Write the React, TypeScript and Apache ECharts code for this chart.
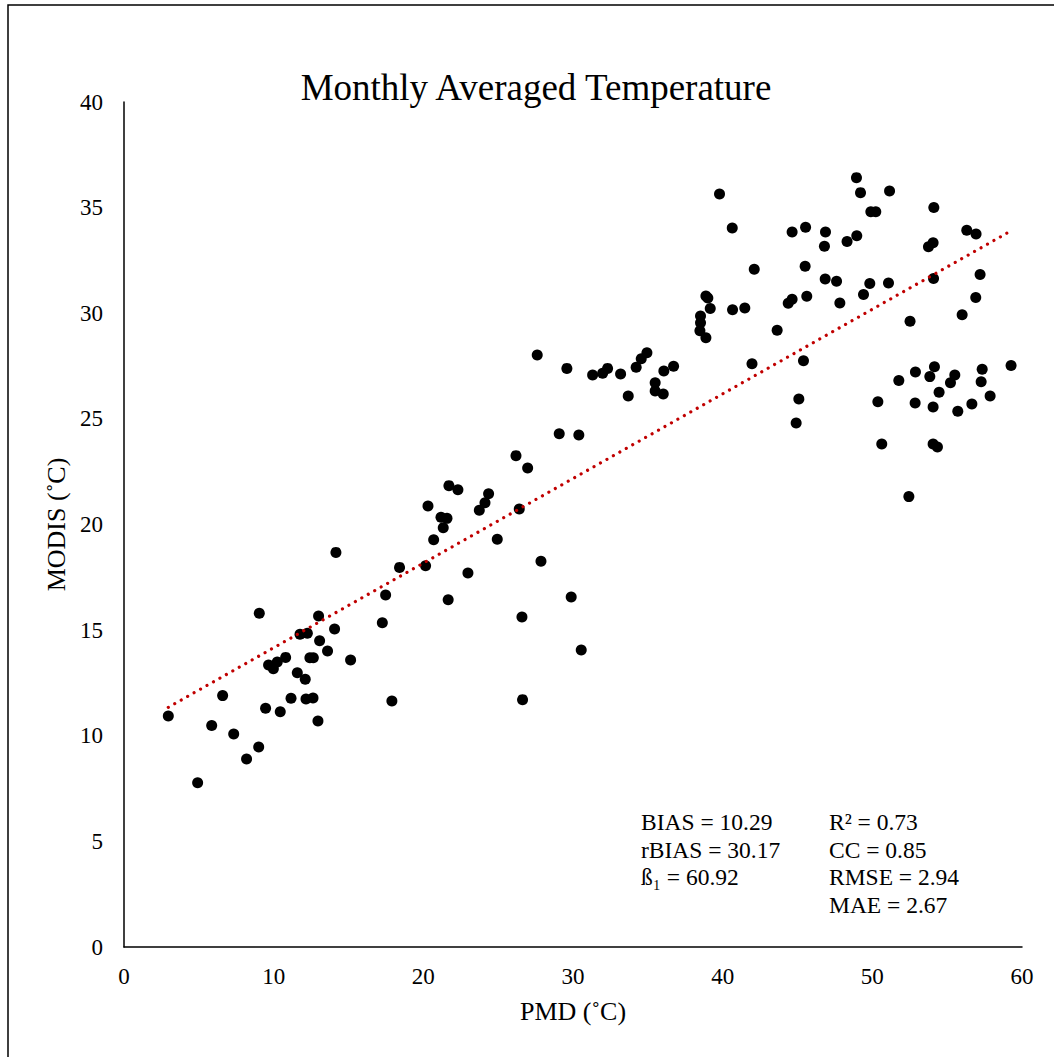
import React, { useEffect, useRef } from "react";
import * as echarts from "echarts";

// [PMD, MODIS] pairs
const lowGroup: number[][] = [
  [2.96, 10.93], [4.92, 7.78], [5.86, 10.48], [6.59, 11.9], [7.33, 10.08], [8.19, 8.9],
  [9.0, 9.47], [9.04, 15.8], [9.46, 11.3], [9.66, 13.35], [9.98, 13.17], [10.24, 13.49],
  [10.44, 11.14], [10.8, 13.71], [11.16, 11.77], [11.58, 12.98], [11.76, 14.8], [12.11, 12.67],
  [12.16, 11.74], [12.25, 14.85], [12.42, 13.69], [12.65, 13.69], [12.63, 11.79], [12.96, 10.7],
  [13.0, 15.67], [13.07, 14.5], [13.6, 14.01], [14.07, 15.05], [14.16, 18.68], [15.14, 13.59],
  [17.26, 15.35], [17.48, 16.66], [17.9, 11.65], [18.41, 17.97], [20.15, 18.05], [20.31, 20.88],
];
const midGroup: number[][] = [
  [20.69, 19.28], [21.18, 20.34], [21.58, 20.29], [21.33, 19.85], [21.66, 16.44], [21.71, 21.84],
  [22.31, 21.65], [22.98, 17.7], [23.74, 20.67], [24.12, 21.03], [24.36, 21.46], [24.94, 19.3],
  [26.19, 23.26], [26.41, 20.73], [26.59, 15.62], [26.63, 11.71], [26.97, 22.67], [27.61, 28.02],
  [27.86, 18.26], [29.08, 24.3], [29.59, 27.39], [29.88, 16.57], [30.39, 24.24], [30.55, 14.06],
  [31.31, 27.08], [31.98, 27.16], [32.31, 27.39], [33.18, 27.12], [33.69, 26.08], [34.22, 27.44],
  [34.56, 27.85], [34.94, 28.13], [35.49, 26.71], [35.49, 26.32], [36.03, 26.18], [36.07, 27.27],
  [36.72, 27.49],
];
const highGroup: number[][] = [
  [38.52, 29.87], [38.52, 29.55], [38.48, 29.17], [38.88, 28.84], [38.88, 30.82], [39.01, 30.72],
  [39.17, 30.23], [39.79, 35.65], [40.64, 34.04], [40.66, 30.17], [41.48, 30.25], [41.96, 27.61],
  [42.11, 32.08], [43.64, 29.19], [44.38, 30.47], [44.64, 30.66], [44.64, 33.85], [44.91, 24.8],
  [45.09, 25.94], [45.4, 27.75], [45.51, 32.22], [45.54, 34.07], [45.62, 30.8], [46.8, 33.17],
  [46.85, 31.62], [46.87, 33.85], [47.61, 31.51], [47.83, 30.49], [48.31, 33.4], [48.94, 36.42],
  [48.96, 33.67], [49.21, 35.71], [49.41, 30.89], [49.83, 31.41], [49.9, 34.81], [50.23, 34.81],
  [50.37, 25.81], [50.63, 23.81], [51.08, 31.43], [51.15, 35.79], [51.77, 26.82], [52.44, 21.32],
  [52.52, 29.62], [52.86, 25.75], [52.88, 27.22], [53.75, 33.15], [53.84, 27.0], [54.06, 33.34],
  [54.06, 25.56], [54.06, 23.81], [54.09, 31.65], [54.11, 35.01], [54.15, 27.47], [54.35, 23.67],
  [54.46, 26.26], [55.22, 26.71], [55.51, 27.08], [55.71, 25.36], [56.0, 29.93], [56.31, 33.93],
  [56.65, 25.7], [56.91, 30.75], [56.93, 33.75], [57.2, 31.83], [57.27, 26.76], [57.34, 27.35],
  [57.87, 26.08], [59.27, 27.53],
];

// linear trendline coefficients
const trendSlope = 0.4006;
const trendIntercept = 10.16;

const xTicks = [0, 10, 20, 30, 40, 50, 60];
const yTicks = [0, 5, 10, 15, 20, 25, 30, 35, 40];

const statsLeft = ["BIAS = 10.29", "rBIAS = 30.17", "ß₁ = 60.92"];
const statsRight = ["R² = 0.73", "CC = 0.85", "RMSE = 2.94", "MAE = 2.67"];

const FONT = "'Liberation Serif', 'Times New Roman', serif";

export default function App() {
  const ref = useRef<HTMLDivElement>(null);
  useEffect(() => {
    if (!ref.current) return;
    const chart = echarts.init(ref.current, null, { renderer: "svg" });
    const all = [...lowGroup, ...midGroup, ...highGroup];
    const xs = all.map((p) => p[0]);
    const xMin = Math.min(...xs);
    const xMax = Math.max(...xs);
    const trend = [
      [xMin, trendIntercept + trendSlope * xMin],
      [xMax, trendIntercept + trendSlope * xMax],
    ];
    const statTexts: any[] = [];
    statsLeft.forEach((t, i) =>
      statTexts.push({
        type: "text",
        left: 641,
        top: 810 + i * 27.6,
        style: { text: t, font: `23.5px ${FONT}`, fill: "#000" },
      })
    );
    statsRight.forEach((t, i) =>
      statTexts.push({
        type: "text",
        left: 829,
        top: 810 + i * 27.6,
        style: { text: t, font: `23.5px ${FONT}`, fill: "#000" },
      })
    );
    chart.setOption({
      animation: false,
      backgroundColor: "#fff",
      grid: { left: 124, top: 102, right: 32, bottom: 110 },
      xAxis: {
        type: "value",
        min: 0,
        max: 60,
        interval: 10,
        name: "PMD (˚C)",
        nameLocation: "middle",
        nameGap: 51,
        nameTextStyle: { fontFamily: FONT, fontSize: 26, color: "#000" },
        axisLine: { show: true, onZero: false, lineStyle: { color: "#000", width: 1.5 } },
        axisTick: { show: false },
        splitLine: { show: false },
        axisLabel: {
          fontFamily: FONT,
          fontSize: 23,
          color: "#000",
          margin: 18,
          formatter: (v: number) => (xTicks.includes(v) ? String(v) : ""),
        },
      },
      yAxis: {
        type: "value",
        min: 0,
        max: 40,
        interval: 5,
        name: "MODIS (˚C)",
        nameLocation: "middle",
        nameGap: 47,
        nameTextStyle: { fontFamily: FONT, fontSize: 26, color: "#000" },
        axisLine: { show: true, onZero: false, lineStyle: { color: "#000", width: 1.5 } },
        axisTick: { show: false },
        splitLine: { show: false },
        axisLabel: {
          fontFamily: FONT,
          fontSize: 23,
          color: "#000",
          margin: 21,
          formatter: (v: number) => (yTicks.includes(v) ? String(v) : ""),
        },
      },
      graphic: [
        {
          type: "rect",
          shape: { x: 8, y: 5, width: 1200, height: 1200 },
          style: { fill: "none", stroke: "#000", lineWidth: 1.5 },
          silent: true,
          z: 0,
        },
        {
          type: "text",
          x: 536,
          y: 87,
          style: {
            text: "Monthly Averaged Temperature",
            font: `37px ${FONT}`,
            fill: "#000",
            align: "center",
            verticalAlign: "middle",
          },
        },
        ...statTexts,
      ],
      series: [
        {
          type: "scatter",
          data: all,
          symbol: "circle",
          symbolSize: 11,
          itemStyle: { color: "#000", opacity: 1 },
          z: 2,
        },
        {
          type: "line",
          data: trend,
          symbol: "none",
          lineStyle: { color: "#C00000", width: 3.2, type: [0.01, 7.4], cap: "round" },
          z: 3,
        },
      ],
    });
    return () => chart.dispose();
  }, []);
  return (
    <div
      ref={ref}
      style={{ position: "absolute", left: 0, top: 0, width: 1054, height: 1057 }}
    />
  );
}
